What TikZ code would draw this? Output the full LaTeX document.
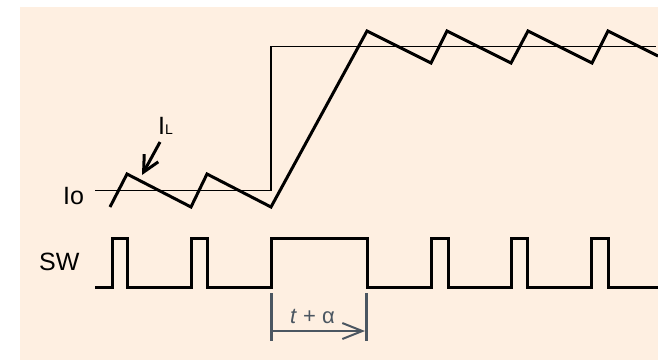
\documentclass[tikz,border=0pt]{standalone}
\usepackage{fontspec}
\setmainfont{Liberation Sans}
\usetikzlibrary{arrows.meta}
\definecolor{bgpeach}{RGB}{254,239,225}
\definecolor{annot}{RGB}{75,86,97}
\begin{document}
\begin{tikzpicture}[x=1pt,y=-1pt,
  wave/.style={line width=3pt, black},
  refline/.style={line width=1.5pt, black},
  annotline/.style={line width=2pt, annot},
  annotbar/.style={line width=3pt, annot},
  lbl/.style={font=\fontsize{25}{30}\selectfont, inner sep=0pt, text=black},
  sublbl/.style={font=\fontsize{22}{26}\selectfont, inner sep=0pt, text=annot}]
\useasboundingbox (0,0) rectangle (658,360);
\fill[bgpeach] (20,7) rectangle (658,360);
% reference current Io
\draw[refline] (95,190.5) -- (271,190.5) -- (271,46.5) -- (656,46.5);
% inductor current IL
\draw[wave] (110,207) -- (127,174) -- (191,207) -- (207,174) -- (271,207)
  -- (367,31) -- (431,63) -- (447,31) -- (511,63) -- (528,31) -- (592,63)
  -- (608,31) -- (658,56);
% switch signal SW
\draw[wave] (95,287) -- (112,287) -- (112,238.5) -- (127,238.5) -- (127,287)
  -- (191,287) -- (191,238.5) -- (207,238.5) -- (207,287)
  -- (271,287) -- (271,238.5) -- (367,238.5) -- (367,287)
  -- (431,287) -- (431,238.5) -- (448,238.5) -- (448,287)
  -- (511,287) -- (511,238.5) -- (527,238.5) -- (527,287)
  -- (591,287) -- (591,238.5) -- (608,238.5) -- (608,287) -- (658,287);
% labels
\node[lbl, anchor=base west] (io) at (63,204) {Io};
\node[lbl, anchor=base west] (sw) at (39,270) {SW};
\node[lbl, anchor=base west] (il) at (158,134) {I{\fontsize{14}{16}\selectfont L}};
% IL arrow
\coordinate (ilfrom) at (160,142);
\coordinate (iltip) at (142,175);
\draw[line width=3pt, -{Straight Barb[length=16pt,width=16pt]}] (ilfrom) -- (iltip);
% t + alpha annotation
\coordinate (b0t) at (271,293);
\coordinate (b0b) at (271,341);
\coordinate (b1t) at (366,293);
\coordinate (b1b) at (366,341);
\draw[annotbar] (b0t) -- (b0b);
\draw[annotbar] (b1t) -- (b1b);
\coordinate (a0) at (271,331);
\coordinate (a1) at (365,331);
\draw[annotline, -{Straight Barb[length=20pt,width=16pt]}] (a0) -- (a1);
\node[sublbl, anchor=base west] (ta) at (290,323) {\textit{t} + α};
\end{tikzpicture}
\end{document}
